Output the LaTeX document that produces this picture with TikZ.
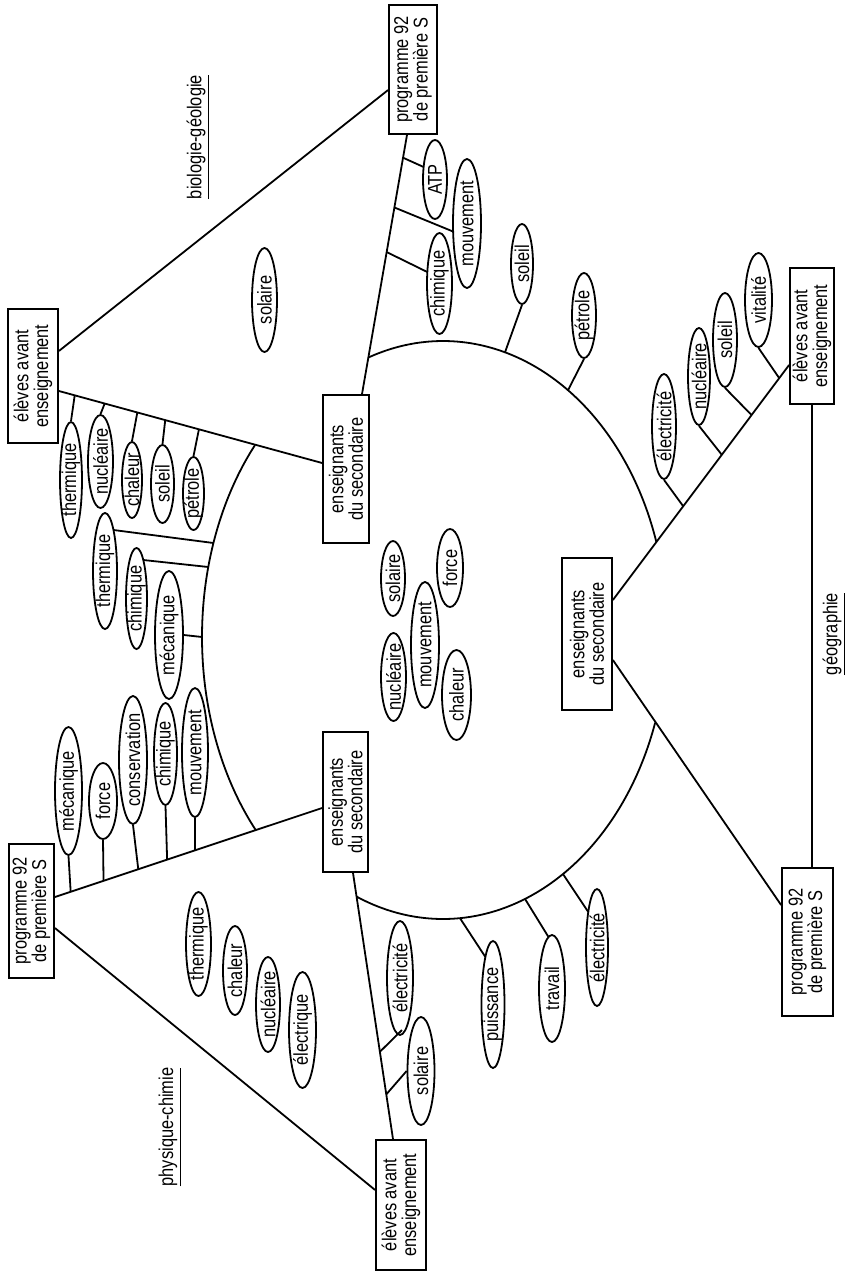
\documentclass[tikz,border=0pt]{standalone}
\usepackage{fontspec}
\setmainfont{Liberation Sans}[FakeStretch=0.82]
\usetikzlibrary{shapes.geometric,calc}
\begin{document}
\begin{tikzpicture}[x=0.5pt,y=-0.5pt,
  every node/.style={font=\fontsize{10pt}{9.8pt}\selectfont},
  conn/.style={line width=0.9pt},
  bx/.style 2 args={draw, line width=0.9pt, rotate=90, align=center, inner sep=0pt,
     minimum width={#1*0.5pt}, minimum height={#2*0.5pt}},
  ov/.style 2 args={ellipse, draw, line width=0.9pt, rotate=90, inner xsep=-4pt, inner ysep=-1.5pt,
     minimum width={#1*0.5pt}, minimum height={#2*0.5pt}},
  lab/.style={rotate=90, inner sep=0pt}
]
\useasboundingbox (0,0) rectangle (846,1274);

% boxes
\node[bx={129}{48}] (progTR) at (413,69.5) {programme 92\\de première S};
\node[bx={134}{50}] (elevTL) at (33,376) {élèves avant\\enseignement};
\node[bx={148}{46}] (ensU) at (346,469) {enseignants\\du secondaire};
\node[bx={140}{45}] (ensL) at (345.5,802) {enseignants\\du secondaire};
\node[bx={134}{45}] (progL) at (31.5,911) {programme 92\\de première S};
\node[bx={130}{50}] (elevB) at (401,1205) {élèves avant\\enseignement};
\node[bx={152}{50}] (ensC) at (587,634) {enseignants\\du secondaire};
\node[bx={136}{44}] (elevR) at (812,336) {élèves avant\\enseignement};
\node[bx={148}{51}] (progBR) at (807.5,942) {programme 92\\de première S};

% labels
\node[lab] (bio) at (198,137) {\underline{biologie-géologie}};
\node[lab] (phy) at (170,1127) {\underline{physique-chimie}};
\node[lab] (geo) at (834,634) {\underline{géographie}};

% attachment points
\coordinate (a1) at ($(elevTL.south)+(0,-25)$);
\coordinate (b1) at ($(progTR.north)+(0,20.5)$);
\coordinate (a2) at ($(elevTL.south)+(0,15)$);
\coordinate (b2) at ($(ensU.north)+(0,-6)$);
\coordinate (a3) at ($(ensU.east)+(16,0)$);
\coordinate (b3) at ($(progTR.west)+(-6,0)$);
\coordinate (a4) at ($(progL.south)+(0,-14)$);
\coordinate (b4) at ($(ensL.north)+(0,6)$);
\coordinate (a5) at ($(progL.south)+(0,17)$);
\coordinate (b5) at ($(elevB.north)+(0,-15)$);
\coordinate (a6) at ($(ensL.west)+(7.5,0)$);
\coordinate (b6) at ($(elevB.east)+(-8,0)$);
\coordinate (a7) at ($(ensC.south)+(0,-34)$);
\coordinate (b7) at ($(elevR.north)+(0,29)$);
\coordinate (a8) at ($(ensC.south)+(0,26)$);
\coordinate (b8) at ($(progBR.north)+(0,-37)$);
\coordinate (b9) at ($(progBR.east)+(4.5,0)$);

% main lines
\draw[conn] (a1) -- (b1);
\draw[conn] (a2) -- (b2);
\draw[conn] (a3) -- (b3);
\draw[conn] (a4) -- (b4);
\draw[conn] (a5) -- (b5);
\draw[conn] (a6) -- (b6);
\draw[conn] (a7) -- (b7);
\draw[conn] (a8) -- (b8);
\draw[conn] (elevR.west) -- (b9);

% arcs
\draw[conn] plot[domain=17.8:109.4, samples=60, smooth, variable=\t] ({443+224*cos(\t)},{630-289*sin(\t)});
\draw[conn] plot[domain=18.7:112.7, samples=60, smooth, variable=\t] ({443+224*cos(\t)},{630+289*sin(\t)});
\draw[conn] plot[domain=138:221.6, samples=60, smooth, variable=\t] ({412+210*cos(\t)},{637+289*sin(\t)});

% ellipses
\node[ov={104}{25}] (s0) at (264.5,300) {solaire};

\node[ov={116}{22}] (tl1) at (71,480) {thermique};
\node[ov={93}{25}] (tl2) at (100.5,461.5) {nucléaire};
\node[ov={76}{20}] (tl3) at (132,480) {chaleur};
\node[ov={78}{23}] (tl4) at (162.5,484) {soleil};
\node[ov={73}{21}] (tl5) at (193.5,493.5) {pétrole};

\node[ov={116}{24}] (ar1) at (105,571) {thermique};
\node[ov={101}{21}] (ar2) at (136.5,598.5) {chimique};
\node[ov={128}{28}] (ar3) at (169,635) {mécanique};

\node[ov={128}{27}] (p1) at (68.5,791) {mécanique};
\node[ov={76}{28}] (p2) at (103,801) {force};
\node[ov={128}{28}] (p3) at (133,760) {conservation};
\node[ov={102}{23}] (p4) at (165.5,754) {chimique};
\node[ov={129}{26}] (p5) at (195,752.5) {mouvement};

\node[ov={75}{24}] (c1) at (393,578.5) {solaire};
\node[ov={88}{25}] (c2) at (393.5,677) {nucléaire};
\node[ov={126}{28}] (c3) at (425,645) {mouvement};
\node[ov={90}{29}] (c4) at (456.5,695) {chaleur};
\node[ov={78}{26}] (c5) at (450,568) {force};

\node[ov={104}{25}] (f1) at (198.5,944) {thermique};
\node[ov={89}{24}] (f2) at (235,970.5) {chaleur};
\node[ov={95}{24}] (f3) at (268,1004.5) {nucléaire};
\node[ov={116}{27}] (f4) at (302.5,1030) {électrique};

\node[ov={114}{26}] (e1) at (400,978) {électricité};
\node[ov={108}{27}] (e2) at (421,1071) {solaire};

\node[ov={127}{23}] (d1) at (493,1004.5) {puissance};
\node[ov={107}{26}] (d2) at (552,988.5) {travail};
\node[ov={117}{22}] (d3) at (597,947.5) {électricité};

\node[ov={80}{22}] (t1) at (522,264) {soleil};
\node[ov={85}{24}] (t2) at (584,315.5) {pétrole};

\node[ov={79}{24}] (u1) at (435,179.5) {ATP};
\node[ov={129}{28}] (u2) at (467,223.5) {mouvement};
\node[ov={101}{25}] (u3) at (439.5,283.5) {chimique};

\node[ov={105}{24}] (r1) at (664,426.5) {électricité};
\node[ov={97}{22}] (r2) at (699,376.5) {nucléaire};
\node[ov={94}{24}] (r3) at (725,340) {soleil};
\node[ov={94}{27}] (r4) at (758.5,300) {vitalité};

% branches on lines
\draw[conn] ($(a2)!0.060!(b2)$) -- (tl1.east);
\draw[conn] ($(a2)!0.174!(b2)$) -- (tl2.east);
\draw[conn] ($(a2)!0.298!(b2)$) -- (tl3.east);
\draw[conn] ($(a2)!0.404!(b2)$) -- (tl4.east);
\draw[conn] ($(a2)!0.532!(b2)$) -- (tl5.east);

\draw[conn] ($(a4)!0.059!(b4)$) -- (p1.west);
\draw[conn] ($(a4)!0.182!(b4)$) -- (p2.west);
\draw[conn] ($(a4)!0.312!(b4)$) -- (p3.west);
\draw[conn] ($(a4)!0.420!(b4)$) -- (p4.west);
\draw[conn] ($(a4)!0.524!(b4)$) -- (p5.west);

\draw[conn] ($(a6)!0.672!(b6)$) -- ($(e1)+(2,52)$);
\draw[conn] ($(a6)!0.832!(b6)$) -- (e2.north);

\draw[conn] ($(a7)!0.399!(b7)$) -- (r1.west);
\draw[conn] ($(a7)!0.618!(b7)$) -- (r2.west);
\draw[conn] ($(a7)!0.787!(b7)$) -- (r3.west);
\draw[conn] ($(a7)!0.944!(b7)$) -- (r4.west);

\draw[conn] ($(a3)!0.912!(b3)$) -- ($(u1)+(-11.4,-12.5)$);
\draw[conn] ($(a3)!0.720!(b3)$) -- ($(u2)+(-14,8)$);
\draw[conn] ($(a3)!0.548!(b3)$) -- ($(u3)+(-12.2,-11.5)$);

% branches on arcs
\coordinate (k1) at (213.4,543);
\coordinate (k2) at (208.3,567);
\coordinate (k3) at (202,637);
\coordinate (k4) at (505,352.3);
\coordinate (k5) at (568,390.2);
\coordinate (k6) at (460,918.2);
\coordinate (k7) at (525,898.9);
\coordinate (k8) at (563,874);
\draw[conn] (k1) -- ($(ar1)+(8.5,-41)$);
\draw[conn] (k2) -- ($(ar2)+(6.8,-38.5)$);
\draw[conn] (k3) -- (ar3.south);
\draw[conn] (k4) -- (t1.west);
\draw[conn] (k5) -- (t2.west);
\draw[conn] (k6) -- ($(d1)+(-7.6,-47.5)$);
\draw[conn] (k7) -- ($(d2)+(-3.5,-51.5)$);
\draw[conn] (k8) -- ($(d3)+(-8.7,-35.5)$);
\end{tikzpicture}
\end{document}
